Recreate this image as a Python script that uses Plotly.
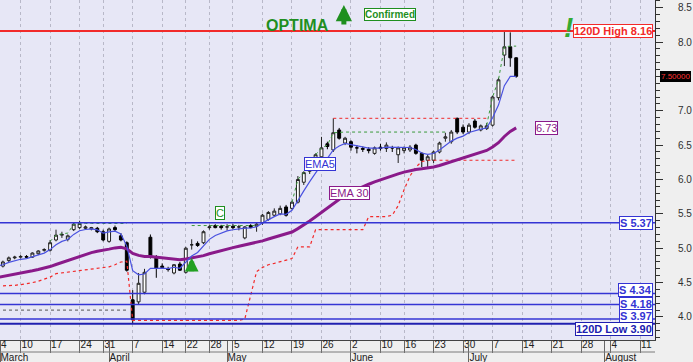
import plotly.graph_objects as go
import pandas as pd

# ---------------- data ----------------
holidays = ["2025-04-18", "2025-04-21", "2025-05-01", "2025-06-09"]
data_gaps = ["2025-03-27"]
dates = [d.strftime("%Y-%m-%d") for d in pd.bdate_range("2025-03-04", "2025-07-11")
         if d.strftime("%Y-%m-%d") not in holidays + data_gaps]
future_dates = [d.strftime("%Y-%m-%d") for d in pd.bdate_range("2025-07-14", "2025-08-15")]

opens = [4.73, 4.74, 4.82, 4.86, 4.87, 4.88, 4.87, 4.92, 4.97, 4.97,
         5.12, 5.19, 5.13, 5.27, 5.30, 5.29, 5.28, 5.29, 5.24, 5.10,
         5.30, 5.18, 5.08, 4.25, 4.22, 4.36, 5.16, 4.86, 4.74, 4.70,
         4.64, 4.77, 4.65, 5.05, 5.07, 5.08, 5.30, 5.33, 5.32, 5.31,
         5.32, 5.31, 5.15, 5.33, 5.32, 5.37, 5.42, 5.48, 5.50, 5.60,
         5.58, 5.67, 5.96, 6.12, 6.26, 6.33, 6.52, 6.43, 6.72, 6.53,
         6.55, 6.46, 6.45, 6.44, 6.38, 6.47, 6.45, 6.46, 6.36, 6.42,
         6.43, 6.50, 6.38, 6.28, 6.28, 6.40, 6.60, 6.55, 6.89, 6.76,
         6.69, 6.85, 6.72, 6.74, 6.79, 7.19, 7.81, 7.93, 7.77]
highs = [4.80, 4.82, 4.88, 4.89, 4.90, 4.90, 4.94, 4.97, 5.00, 5.12,
         5.27, 5.24, 5.20, 5.38, 5.40, 5.33, 5.31, 5.31, 5.27, 5.30,
         5.33, 5.22, 5.10, 4.39, 4.64, 4.70, 5.20, 4.90, 4.78, 4.73,
         4.77, 4.80, 5.02, 5.13, 5.10, 5.26, 5.34, 5.35, 5.34, 5.35,
         5.35, 5.34, 5.32, 5.35, 5.38, 5.50, 5.54, 5.58, 5.62, 5.63,
         5.69, 6.05, 6.12, 6.26, 6.38, 6.62, 6.55, 6.89, 6.75, 6.62,
         6.57, 6.50, 6.48, 6.47, 6.48, 6.52, 6.54, 6.49, 6.48, 6.48,
         6.50, 6.52, 6.40, 6.36, 6.42, 6.55, 6.68, 6.72, 6.90, 6.80,
         6.82, 6.88, 6.80, 6.82, 7.22, 7.48, 8.16, 8.14, 7.78]
lows = [4.70, 4.72, 4.80, 4.84, 4.85, 4.86, 4.86, 4.90, 4.95, 4.95,
        5.10, 5.15, 5.10, 5.25, 5.28, 5.27, 5.26, 5.22, 5.10, 5.08,
        5.24, 5.10, 4.66, 3.90, 4.18, 4.33, 4.85, 4.57, 4.70, 4.66,
        4.62, 4.67, 4.63, 4.98, 5.02, 5.06, 5.27, 5.29, 5.27, 5.26,
        5.28, 5.26, 5.13, 5.29, 5.24, 5.34, 5.40, 5.46, 5.48, 5.46,
        5.56, 5.65, 5.92, 6.08, 6.20, 6.30, 6.44, 6.40, 6.58, 6.50,
        6.42, 6.38, 6.40, 6.38, 6.36, 6.42, 6.40, 6.40, 6.24, 6.38,
        6.40, 6.36, 6.18, 6.18, 6.24, 6.38, 6.55, 6.52, 6.66, 6.66,
        6.66, 6.74, 6.70, 6.72, 6.77, 7.15, 7.65, 7.64, 7.48]
closes = [4.78, 4.80, 4.86, 4.87, 4.88, 4.87, 4.93, 4.96, 4.98, 5.08,
          5.19, 5.20, 5.18, 5.35, 5.36, 5.31, 5.30, 5.24, 5.12, 5.28,
          5.27, 5.12, 4.68, 3.96, 4.49, 4.65, 4.87, 4.71, 4.72, 4.69,
          4.76, 4.68, 5.00, 5.05, 5.04, 5.24, 5.31, 5.30, 5.30, 5.31,
          5.30, 5.31, 5.31, 5.30, 5.35, 5.48, 5.52, 5.54, 5.58, 5.48,
          5.67, 6.00, 6.10, 6.24, 6.36, 6.46, 6.48, 6.68, 6.60, 6.60,
          6.47, 6.46, 6.44, 6.42, 6.46, 6.45, 6.50, 6.46, 6.46, 6.46,
          6.47, 6.38, 6.28, 6.33, 6.40, 6.53, 6.62, 6.69, 6.69, 6.69,
          6.79, 6.76, 6.78, 6.78, 7.20, 7.45, 7.93, 7.77, 7.50]

# trailing stop (red dotted)
stop_values = [4.45, 4.45, 4.46, 4.46, 4.47, 4.48, 4.50, 4.52, 4.55, 4.58,
               4.63, 4.64, 4.65, 4.66, 4.67, 4.68, 4.69, 4.70, 4.71, 4.73,
               4.76, 4.80, 4.81, 3.95, 3.95, 3.95, 3.95, 3.95, 3.95, 3.95,
               3.95, 3.95, 3.95, 3.95, 3.95, 3.95, 3.95, 3.95, 3.95, 3.95,
               3.95, 3.95, 3.97, 4.30, 4.66, 4.72, 4.76, 4.78, 4.80, 4.82,
               4.85, 5.02, 5.02, 5.02, 5.27, 5.27, 5.27, 5.27, 5.27, 5.27,
               5.27, 5.27, 5.27, 5.46, 5.46, 5.46, 5.46, 5.48, 5.62, 5.85,
               6.05, 6.18, 6.26, 6.28, 6.28, 6.28, 6.28, 6.28, 6.28, 6.28,
               6.28, 6.28, 6.28, 6.28, 6.28, 6.28, 6.28, 6.28, 6.28]

# OPTIMA trend line (green dashed), None where absent
optima_line = [None] * 9 + [5.10, 5.19, 5.21, 5.22, 5.35, 5.36, 5.36, 5.36, 5.36, 5.36,
                            5.36, 5.36, 5.36, 5.36] + [None] * 10 + \
              [5.33] * 12 + [None] * 5 + \
              [5.67, 6.00, 6.10, 6.24, 6.36, 6.46, 6.50, 6.68] + [6.69] * 19 + \
              [None] * 6 + [6.79, 7.20, 7.45, 7.93, 7.94, 7.94]

ema5_seed = 4.72
ema30_seed = 4.56
ema30_label = "6.73"

resist_level = 6.89
resist_dates = ["2025-05-28", "2025-07-04"]
prev_low_level = 4.10
prev_low_dates = ["2025-03-04", "2025-04-04"]

support_levels = [5.37, 4.34, 4.18, 3.97]
support_labels = ["S 5.37", "S 4.34", "S 4.18", "S 3.97"]
high120 = 8.16
low120 = 3.90

y_ticks = [4.0, 4.5, 5.0, 5.5, 6.0, 6.5, 7.0, 7.5, 8.0, 8.5]
y_tick_text = ["4.0", "4.5", "5.0", "5.5", "6.0", "6.5", "7.0", "", "8.0", "8.5"]
month_names = {3: "March", 4: "April", 5: "May", 6: "June", 7: "July", 8: "August"}

# ---------------- derived ----------------
idx = list(range(len(dates)))
pos = {d: i for i, d in enumerate(dates + future_dates)}


def ema(vals, span, seed):
    a = 2.0 / (span + 1)
    out, prev = [], seed
    for v in vals:
        prev = prev + a * (v - prev)
        out.append(prev)
    return out


ema5 = ema(closes, 5, ema5_seed)
ema30 = ema(closes, 30, ema30_seed)

XMIN, XMAX = 0.508, 111.53
YMIN, YMAX = 3.665, 8.611

all_days = dates + future_dates
week_vals, week_text, month_vals, month_text = [], [], [], []
prev = None
for i, d in enumerate(all_days):
    ts = pd.Timestamp(d)
    wk = ts.isocalendar()[1]
    if prev is None or wk != prev[0]:
        week_vals.append(max(i, XMIN))
        week_text.append(str(ts.day))
    if prev is None or ts.month != prev[1]:
        month_vals.append(max(i, XMIN))
        month_text.append(month_names[ts.month])
    prev = (wk, ts.month)

GREEN = "#1f8f1f"
BLUE = "#3434d4"
PURPLE = "#8a1a8a"
RED = "#f22a2a"
FONT = "Liberation Sans, Arial, sans-serif"

fig = go.Figure()

# level lines
fig.add_trace(go.Scatter(x=[pos[d] for d in prev_low_dates], y=[prev_low_level] * 2, mode="lines",
                         line=dict(color="#555555", width=1, dash="dot"), hoverinfo="skip", showlegend=False))
fig.add_trace(go.Scatter(x=[pos[d] for d in resist_dates], y=[resist_level] * 2, mode="lines",
                         line=dict(color=RED, width=1, dash="dot"), hoverinfo="skip", showlegend=False))
fig.add_trace(go.Scatter(x=idx, y=stop_values, mode="lines",
                         line=dict(color=RED, width=1.2, dash="dot"), hoverinfo="skip", showlegend=False))
fig.add_trace(go.Scatter(x=idx, y=optima_line, mode="lines", connectgaps=False,
                         line=dict(color="#3a9a3a", width=1, dash="3px,3px"), hoverinfo="skip", showlegend=False))
fig.add_trace(go.Scatter(x=idx, y=ema30, mode="lines",
                         line=dict(color=PURPLE, width=3), hoverinfo="skip", showlegend=False))
fig.add_trace(go.Scatter(x=idx, y=ema5, mode="lines",
                         line=dict(color="#4a52e0", width=1.2), hoverinfo="skip", showlegend=False))

fig.add_trace(go.Candlestick(
    x=idx, open=opens, high=highs, low=lows, close=closes,
    increasing=dict(fillcolor="white", line=dict(color="#202020", width=1)),
    decreasing=dict(fillcolor="black", line=dict(color="black", width=1)),
    whiskerwidth=0, showlegend=False))

# dummy trace for the month axis
fig.add_trace(go.Scatter(x=[], y=[], xaxis="x2", showlegend=False, hoverinfo="skip"))

shapes = []
for lv in support_levels:
    shapes.append(dict(type="line", xref="paper", x0=0, x1=1, yref="y", y0=lv, y1=lv,
                       line=dict(color=BLUE, width=1.5)))
shapes.append(dict(type="line", xref="paper", x0=0, x1=1, yref="y", y0=low120, y1=low120,
                   line=dict(color="#2020b0", width=2)))
shapes.append(dict(type="line", xref="paper", x0=0, x1=1, yref="y", y0=high120, y1=high120,
                   line=dict(color=RED, width=2)))
# separator between day row and month row
shapes.append(dict(type="line", xref="paper", x0=0, x1=1, yref="paper", y0=-12 / 340, y1=-12 / 340,
                   line=dict(color="#7a7a7a", width=1)))

ann = []


def box(text, x, y, color, xref="x", yref="y", xanchor="center", size=11, bold=True, yshift=0, xshift=0,
        bg="white", border=None):
    ann.append(dict(text=("<b>%s</b>" % text) if bold else text, x=x, y=y, xref=xref, yref=yref,
                    xanchor=xanchor, yanchor="middle", showarrow=False, yshift=yshift, xshift=xshift,
                    font=dict(family=FONT, size=size, color=color), bgcolor=bg,
                    bordercolor=border or color, borderwidth=1, borderpad=0))


box("120D High %.2f" % high120, 1, high120, RED, xref="paper", xanchor="right", xshift=-2)
shifts = [0, 4, 1, 3]
for lv, lab, sh in zip(support_levels, support_labels, shifts):
    box(lab, 1, lv, BLUE, xref="paper", xanchor="right", xshift=-2, yshift=sh)
box("120D Low %.2f" % low120, 1, low120, "#2020b0", xref="paper", xanchor="right", xshift=-2, yshift=-5)
box("%.5f" % closes[-1], 1, closes[-1], "#ff3030", xref="paper", xanchor="left", xshift=5, size=8,
    bold=False, bg="black", border="black")
box(ema30_label, 93.2, ema30[-1], PURPLE, bold=False)
box("EMA5", 54.7, 6.225, BLUE, bold=False)
box("EMA 30", 59.8, 5.80, PURPLE, bold=False)
box("C", 37.8, 5.51, GREEN, bold=False)
box("Confirmed", 0.595, 0.956, GREEN, xref="paper", yref="paper", size=10)

ann.append(dict(text="<b>OPTIMA</b>", x=0.4535, y=0.956, xref="paper", yref="paper", showarrow=False,
                font=dict(family=FONT, size=16, color=GREEN)))
ann.append(dict(text="<b><i>!</i></b>", x=0.878, y=0.972, xref="paper", yref="paper", showarrow=False,
                font=dict(family=FONT, size=28, color="#33aa33")))
# arrows
ann.append(dict(text="", x=0.525, y=0.985, xref="paper", yref="paper", showarrow=True, ax=0, ay=21,
                arrowhead=2, arrowsize=0.65, arrowwidth=5, arrowcolor=GREEN))
ann.append(dict(text="", x=33, y=4.86, xref="x", yref="y", showarrow=True, ax=0, ay=15,
                arrowhead=2, arrowsize=0.55, arrowwidth=5, arrowcolor="#22a022"))

fig.update_layout(
    width=693, height=362,
    margin=dict(l=0, r=38, t=0, b=22, autoexpand=False),
    paper_bgcolor="#efefef", plot_bgcolor="#e7e7f6",
    font=dict(family=FONT, size=10, color="#222222"),
    showlegend=False,
    shapes=shapes, annotations=ann,
    xaxis=dict(range=[XMIN, XMAX], tickmode="array", tickvals=week_vals, ticktext=week_text,
               ticks="outside", ticklen=12, tickcolor="#666666", tickwidth=1,
               ticklabelposition="outside right", ticklabelstandoff=-5,
               showgrid=True, gridcolor="#b8b8c8",
               griddash="3px,3px", gridwidth=1, showline=True, linecolor="#444444", linewidth=1,
               zeroline=False, rangeslider=dict(visible=False), automargin=False,
               tickfont=dict(family=FONT, size=10, color="#202020")),
    xaxis2=dict(overlaying="x", anchor="free", position=0, side="bottom", range=[XMIN, XMAX],
                tickmode="array", tickvals=month_vals, ticktext=month_text, ticks="outside",
                ticklen=22, tickcolor="#666666", ticklabelposition="outside right",
                ticklabelstandoff=8, showgrid=False, showline=False, zeroline=False, automargin=False,
                tickfont=dict(family=FONT, size=10, color="#202020")),
    yaxis=dict(range=[YMIN, YMAX], side="right", tickmode="array", tickvals=y_ticks, ticktext=y_tick_text,
               ticks="outside", ticklen=7, tickcolor="#303030", showline=True, linecolor="#303030",
               showgrid=False, zeroline=False, ticklabelstandoff=13, automargin=False,
               minor=dict(dtick=0.1, tick0=4.0, ticks="outside", ticklen=4, tickcolor="#303030", showgrid=False),
               tickfont=dict(family=FONT, size=10, color="#303030")),
)

fig.write_html("out.html", config={"displayModeBar": False},
               post_script="document.body.style.margin='0';document.body.style.padding='0';"
                           "document.body.style.overflow='hidden';")
